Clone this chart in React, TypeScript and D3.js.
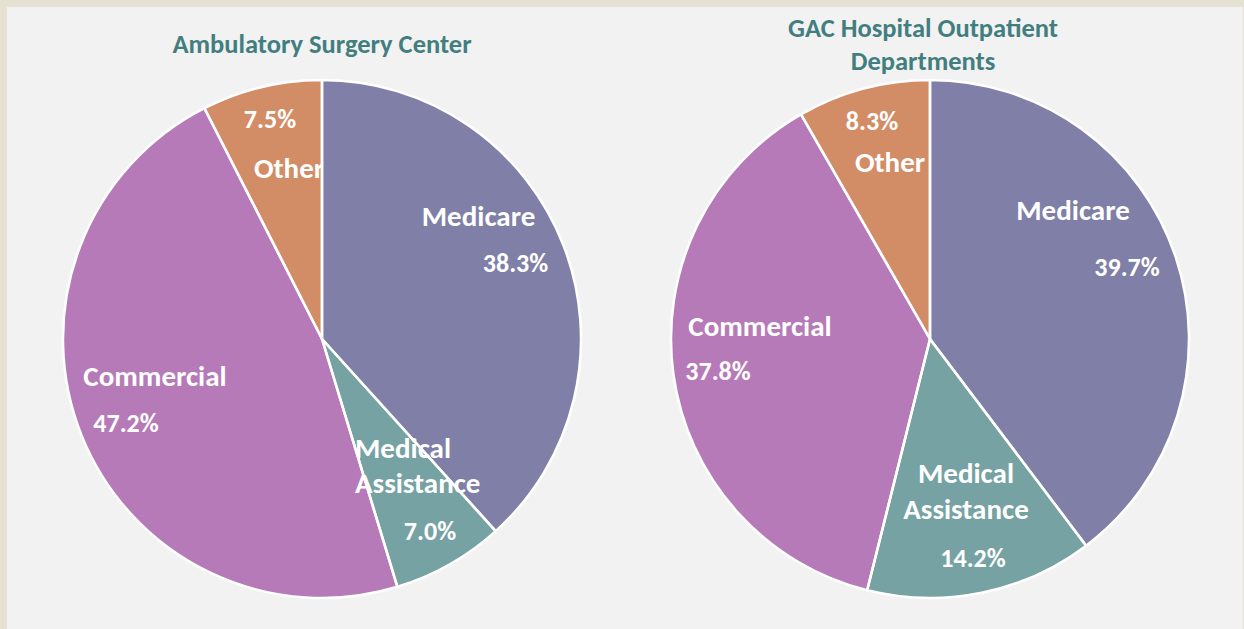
import React from "react";
import * as d3 from "d3";

const categories = ["Medicare", "Medical Assistance", "Commercial", "Other"];
const ascValues = [38.3, 7.0, 47.2, 7.5];
const gacValues = [39.7, 14.2, 37.8, 8.3];
const ascTitle = ["Ambulatory Surgery Center"];
const gacTitle = ["GAC Hospital Outpatient", "Departments"];
const nameLines = [["Medicare"], ["Medical", "Assistance"], ["Commercial"], ["Other"]];

const colors = ["#7f7fa7", "#76a2a3", "#b77ab8", "#d38d66"];

const W = 1244;
const H = 629;
const R = 259;
const FONT = "Carlito, Calibri, Lato, 'Open Sans', sans-serif";

type LineLayout = { dx: number; dy: number; anchor?: "start" | "middle" };
type SliceLayout = { name: LineLayout[]; pct: LineLayout };

const ascLayout: SliceLayout[] = [
  { name: [{ dx: 156.5, dy: -113 }], pct: { dx: 193.5, dy: -67 } },
  {
    name: [
      { dx: 33, dy: 119, anchor: "start" },
      { dx: 33, dy: 154, anchor: "start" },
    ],
    pct: { dx: 108, dy: 201 },
  },
  { name: [{ dx: -167, dy: 47 }], pct: { dx: -196, dy: 93 } },
  { name: [{ dx: -33, dy: -161 }], pct: { dx: -52, dy: -211 } },
];

const gacLayout: SliceLayout[] = [
  { name: [{ dx: 143, dy: -119 }], pct: { dx: 197, dy: -63 } },
  { name: [{ dx: 36, dy: 144 }, { dx: 36, dy: 180 }], pct: { dx: 43, dy: 228 } },
  { name: [{ dx: -170, dy: -3 }], pct: { dx: -212, dy: 41 } },
  { name: [{ dx: -40, dy: -167 }], pct: { dx: -58, dy: -209 } },
];

function Pie({
  id,
  cx,
  cy,
  values,
  title,
  titleX,
  titleY,
  layout,
}: {
  id: string;
  cx: number;
  cy: number;
  values: number[];
  title: string[];
  titleX: number;
  titleY: number;
  layout: SliceLayout[];
}) {
  const pieGen = d3
    .pie<number>()
    .sort(null)
    .value((d) => d)
    .startAngle(0)
    .endAngle(2 * Math.PI);
  const arcs = pieGen(values);
  const arcGen = d3.arc<d3.PieArcDatum<number>>().innerRadius(0).outerRadius(R);
  return (
    <g>
      <defs>
        {arcs.map((a, i) => (
          <clipPath id={`${id}-clip-${i}`} key={i}>
            <path d={arcGen(a) || ""} transform={`translate(${cx},${cy})`} />
          </clipPath>
        ))}
      </defs>
      {title.map((t, i) => (
        <text
          key={i}
          x={titleX}
          y={titleY + i * 33}
          textAnchor="middle"
          fontFamily={FONT}
          fontWeight={700}
          fontSize={26.5}
          fill="#427e80"
        >
          {t}
        </text>
      ))}
      <g transform={`translate(${cx},${cy})`}>
        {arcs.map((a, i) => (
          <path key={i} d={arcGen(a) || ""} fill={colors[i]} />
        ))}
      </g>
      {arcs.map((a, i) => {
        const L = layout[i];
        const clip = i === 3 ? `url(#${id}-clip-${i})` : undefined;
        return (
          <g key={i} clipPath={clip} fill="#ffffff" fontFamily={FONT} fontWeight={700}>
            {nameLines[i].map((ln, j) => (
              <text
                key={j}
                x={cx + L.name[j].dx}
                y={cy + L.name[j].dy}
                textAnchor={L.name[j].anchor || "middle"}
                fontSize={29}
              >
                {ln}
              </text>
            ))}
            <text
              x={cx + L.pct.dx}
              y={cy + L.pct.dy}
              textAnchor={L.pct.anchor || "middle"}
              fontSize={26}
            >
              {`${values[i].toFixed(1)}%`}
            </text>
          </g>
        );
      })}
      <g transform={`translate(${cx},${cy})`}>
        {arcs.map((a, i) => (
          <path
            key={i}
            d={arcGen(a) || ""}
            fill="none"
            stroke="#ffffff"
            strokeWidth={2.5}
            strokeLinejoin="round"
          />
        ))}
      </g>
    </g>
  );
}

export default function App() {
  return (
    <svg
      width={W}
      height={H}
      style={{ position: "absolute", left: 0, top: 0 }}
      xmlns="http://www.w3.org/2000/svg"
    >
      <rect x={0} y={0} width={W} height={H} fill="#e6e2d2" />
      <rect x={7} y={7} width={W - 8} height={H - 7} fill="#f2f2f2" />
      <Pie id="asc" cx={322} cy={339} values={ascValues} title={ascTitle} titleX={322} titleY={53} layout={ascLayout} />
      <Pie id="gac" cx={930} cy={339} values={gacValues} title={gacTitle} titleX={923} titleY={37} layout={gacLayout} />
    </svg>
  );
}
